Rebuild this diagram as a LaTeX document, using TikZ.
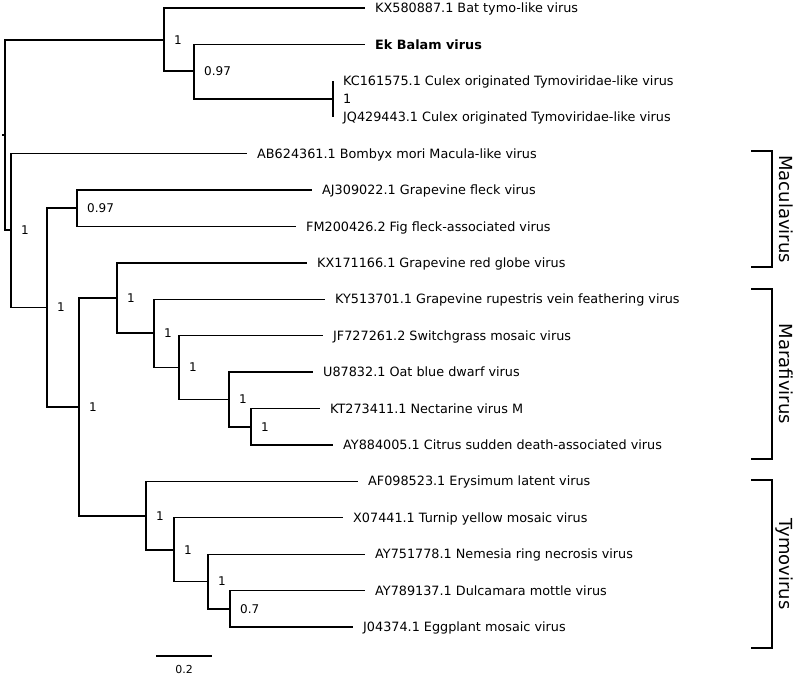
\documentclass[tikz,border=0pt]{standalone}
\usepackage{fontspec}
\setmainfont{DejaVu Sans}
\begin{document}
\begin{tikzpicture}[x=1pt,y=-1pt,
  br/.style={line width=1.4pt,line join=miter},
  leaf/.style={inner sep=0pt,anchor=base west,font=\fontsize{12.8}{15}\selectfont},
  sup/.style={inner sep=0pt,anchor=base west,font=\fontsize{12}{14}\selectfont},
  clade/.style={inner sep=0pt,anchor=base,rotate=-90,font=\fontsize{18}{21}\selectfont},
  bracket/.style={line width=1.4pt}]
\useasboundingbox (0,0) rectangle (800,675);
% internal nodes
\coordinate (R) at (5,135);
\coordinate (A) at (164,40);
\coordinate (C) at (194,71);
\coordinate (D) at (333,99);
\coordinate (B) at (11,230);
\coordinate (E) at (47,307.5);
\coordinate (F) at (77,208);
\coordinate (G) at (79,407);
\coordinate (H) at (117,298);
\coordinate (J) at (154,333);
\coordinate (K) at (179,367.5);
\coordinate (L) at (229,399.5);
\coordinate (M) at (251,427);
\coordinate (I) at (146,516);
\coordinate (N) at (174,550);
\coordinate (O) at (208,581.5);
\coordinate (P) at (230,609);
\coordinate (stub) at (2,135);
% leaf tips
\coordinate (l1) at (365,8);
\coordinate (l2) at (365,44.4);
\coordinate (l3) at (333,80.8);
\coordinate (l4) at (333,117.2);
\coordinate (l5) at (247,153.6);
\coordinate (l6) at (312,190.1);
\coordinate (l7) at (296,226.5);
\coordinate (l8) at (307,262.9);
\coordinate (l9) at (325,299.3);
\coordinate (l10) at (323,335.7);
\coordinate (l11) at (313,372.1);
\coordinate (l12) at (320,408.5);
\coordinate (l13) at (333,444.9);
\coordinate (l14) at (358,481.3);
\coordinate (l15) at (343,517.7);
\coordinate (l16) at (365,554.2);
\coordinate (l17) at (365,590.6);
\coordinate (l18) at (353,627);
% branches
\draw[br] (stub) -- (R);
\draw[br] (R) |- (A);
\draw[br] (R) |- (B);
\draw[br] (A) |- (l1);
\draw[br] (A) |- (C);
\draw[br] (C) |- (l2);
\draw[br] (C) |- (D);
\draw[br] (D) |- (l3);
\draw[br] (D) |- (l4);
\draw[br] (B) |- (l5);
\draw[br] (B) |- (E);
\draw[br] (E) |- (F);
\draw[br] (E) |- (G);
\draw[br] (F) |- (l6);
\draw[br] (F) |- (l7);
\draw[br] (G) |- (H);
\draw[br] (G) |- (I);
\draw[br] (H) |- (l8);
\draw[br] (H) |- (J);
\draw[br] (J) |- (l9);
\draw[br] (J) |- (K);
\draw[br] (K) |- (l10);
\draw[br] (K) |- (L);
\draw[br] (L) |- (l11);
\draw[br] (L) |- (M);
\draw[br] (M) |- (l12);
\draw[br] (M) |- (l13);
\draw[br] (I) |- (l14);
\draw[br] (I) |- (N);
\draw[br] (N) |- (l15);
\draw[br] (N) |- (O);
\draw[br] (O) |- (l16);
\draw[br] (O) |- (P);
\draw[br] (P) |- (l17);
\draw[br] (P) |- (l18);
% leaf labels
\node[leaf] (t1) at ([xshift=10pt,yshift=-4.6pt]l1) {KX580887.1 Bat tymo-like virus};
\node[leaf] (t2) at ([xshift=10pt,yshift=-4.6pt]l2) {\bfseries Ek Balam virus};
\node[leaf] (t3) at ([xshift=10pt,yshift=-4.6pt]l3) {KC161575.1 Culex originated Tymoviridae-like virus};
\node[leaf] (t4) at ([xshift=10pt,yshift=-4.6pt]l4) {JQ429443.1 Culex originated Tymoviridae-like virus};
\node[leaf] (t5) at ([xshift=10pt,yshift=-4.6pt]l5) {AB624361.1 Bombyx mori Macula-like virus};
\node[leaf] (t6) at ([xshift=10pt,yshift=-4.6pt]l6) {AJ309022.1 Grapevine fleck virus};
\node[leaf] (t7) at ([xshift=10pt,yshift=-4.6pt]l7) {FM200426.2 Fig fleck-associated virus};
\node[leaf] (t8) at ([xshift=10pt,yshift=-4.6pt]l8) {KX171166.1 Grapevine red globe virus};
\node[leaf] (t9) at ([xshift=10pt,yshift=-4.6pt]l9) {KY513701.1 Grapevine rupestris vein feathering virus};
\node[leaf] (t10) at ([xshift=10pt,yshift=-4.6pt]l10) {JF727261.2 Switchgrass mosaic virus};
\node[leaf] (t11) at ([xshift=10pt,yshift=-4.6pt]l11) {U87832.1 Oat blue dwarf virus};
\node[leaf] (t12) at ([xshift=10pt,yshift=-4.6pt]l12) {KT273411.1 Nectarine virus M};
\node[leaf] (t13) at ([xshift=10pt,yshift=-4.6pt]l13) {AY884005.1 Citrus sudden death-associated virus};
\node[leaf] (t14) at ([xshift=10pt,yshift=-4.6pt]l14) {AF098523.1 Erysimum latent virus};
\node[leaf] (t15) at ([xshift=10pt,yshift=-4.6pt]l15) {X07441.1 Turnip yellow mosaic virus};
\node[leaf] (t16) at ([xshift=10pt,yshift=-4.6pt]l16) {AY751778.1 Nemesia ring necrosis virus};
\node[leaf] (t17) at ([xshift=10pt,yshift=-4.6pt]l17) {AY789137.1 Dulcamara mottle virus};
\node[leaf] (t18) at ([xshift=10pt,yshift=-4.6pt]l18) {J04374.1 Eggplant mosaic virus};
% support values
\node[sup] (sA) at ([xshift=10pt,yshift=-4.4pt]A) {1};
\node[sup] (sC) at ([xshift=10pt,yshift=-4.4pt]C) {0.97};
\node[leaf] (sD) at ([xshift=10pt,yshift=-4.6pt]D) {1};
\node[sup] (sB) at ([xshift=10pt,yshift=-4.4pt]B) {1};
\node[sup] (sE) at ([xshift=10pt,yshift=-4.4pt]E) {1};
\node[sup] (sF) at ([xshift=10pt,yshift=-4.4pt]F) {0.97};
\node[sup] (sG) at ([xshift=10pt,yshift=-4.4pt]G) {1};
\node[sup] (sH) at ([xshift=10pt,yshift=-4.4pt]H) {1};
\node[sup] (sJ) at ([xshift=10pt,yshift=-4.4pt]J) {1};
\node[sup] (sK) at ([xshift=10pt,yshift=-4.4pt]K) {1};
\node[sup] (sL) at ([xshift=10pt,yshift=-4.4pt]L) {1};
\node[sup] (sM) at ([xshift=10pt,yshift=-4.4pt]M) {1};
\node[sup] (sI) at ([xshift=10pt,yshift=-4.4pt]I) {1};
\node[sup] (sN) at ([xshift=10pt,yshift=-4.4pt]N) {1};
\node[sup] (sO) at ([xshift=10pt,yshift=-4.4pt]O) {1};
\node[sup] (sP) at ([xshift=10pt,yshift=-4.4pt]P) {0.7};
% clade brackets
\draw[bracket] (751,151) -- (772,151) -- (772,267) -- (751,267);
\draw[bracket] (751,289) -- (772,289) -- (772,459) -- (751,459);
\draw[bracket] (751,480) -- (772,480) -- (772,648) -- (751,648);
\node[clade] (cMac) at (779.5,209) {Maculavirus};
\node[clade] (cMar) at (779.5,374) {Marafivirus};
\node[clade] (cTym) at (779.5,564) {Tymovirus};
% scale bar
\coordinate (sb1) at (156,656);
\coordinate (sb2) at (212,656);
\draw[line width=1.2pt] (sb1) -- (sb2);
\node[inner sep=0pt,anchor=base,font=\fontsize{11}{13}\selectfont] (sbt) at (184,673) {0.2};
\end{tikzpicture}
\end{document}
